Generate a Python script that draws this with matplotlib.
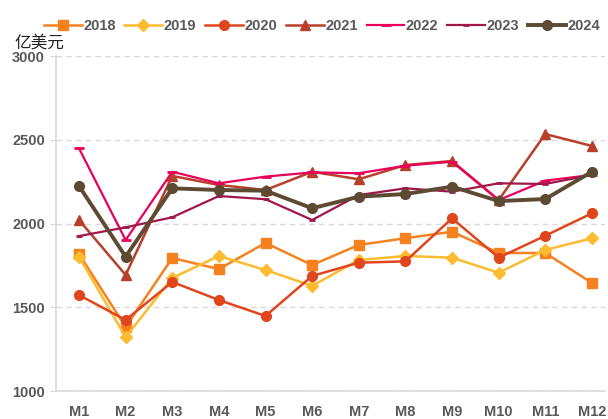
import matplotlib.pyplot as plt

months = ["M1", "M2", "M3", "M4", "M5", "M6", "M7", "M8", "M9", "M10", "M11", "M12"]
y2018 = [1818, 1382, 1794, 1728, 1884, 1752, 1872, 1912, 1951, 1824, 1824, 1645]
y2019 = [1802, 1322, 1675, 1806, 1722, 1628, 1782, 1806, 1796, 1706, 1842, 1912]
y2020 = [1573, 1424, 1651, 1543, 1448, 1687, 1766, 1774, 2031, 1796, 1927, 2061]
y2021 = [2021, 1693, 2284, 2230, 2200, 2309, 2264, 2349, 2373, 2140, 2534, 2463]
y2022 = [2449, 1901, 2309, 2240, 2280, 2305, 2300, 2345, 2369, 2140, 2256, 2290]
y2023 = [1925, 1977, 2037, 2164, 2145, 2021, 2170, 2210, 2190, 2240, 2236, 2290]
y2024 = [2224, 1802, 2210, 2200, 2196, 2091, 2160, 2176, 2220, 2134, 2146, 2309]

grey = "#595959"
fig = plt.figure(figsize=(6.08, 4.19), dpi=100)
ax = fig.add_axes([56 / 608, 28 / 419, 549 / 608, 335 / 419])

x = list(range(len(months)))
ax.plot(x, y2018, color="#F5821F", lw=1.8, marker="s", ms=7, label="2018")
ax.plot(x, y2019, color="#FDBB30", lw=1.8, marker="D", ms=6, label="2019")
ax.plot(x, y2020, color="#E0461E", lw=1.8, marker="o", ms=7, label="2020")
ax.plot(x, y2021, color="#B8402A", lw=1.8, marker="^", ms=7.5, label="2021")
ax.plot(x, y2022, color="#E8005A", lw=1.6, marker="_", ms=7, mew=2, label="2022")
ax.plot(x, y2023, color="#A0174A", lw=1.6, marker="_", ms=5, mew=2, label="2023")
ax.plot(x, y2024, color="#5C4A32", lw=2.8, marker="o", ms=7, label="2024")

ax.set_xlim(-0.493, 11.28)
ax.set_ylim(1000, 3000)
ax.set_yticks([1000, 1500, 2000, 2500, 3000])
ax.set_xticks(x)
ax.set_xticklabels(months)
ax.grid(axis="y", color="#D9D9D9", ls=(0, (4, 3)), lw=1)
ax.set_axisbelow(True)
for s in ["top", "right"]:
    ax.spines[s].set_visible(False)
for s in ["left", "bottom"]:
    ax.spines[s].set_color("#D9D9D9")
    ax.spines[s].set_linewidth(1.2)
ax.tick_params(axis="y", length=4, color="#D9D9D9", labelsize=10.5, labelcolor=grey, pad=4)
ax.tick_params(axis="x", length=0, labelsize=10.5, labelcolor=grey, pad=10)
for lab in ax.get_xticklabels() + ax.get_yticklabels():
    lab.set_fontweight("bold")
    lab.set_fontfamily("Liberation Sans")

fig.text(14 / 608, 1 - 43 / 419, "亿美元", fontsize=12, color="#222222",
         family=["Noto Sans CJK SC", "DejaVu Sans"], va="center", ha="left")

leg = fig.legend(loc="center", bbox_to_anchor=(322 / 608, 1 - 26 / 419), ncol=7, frameon=False,
                 handlelength=2.6, columnspacing=0.6, handletextpad=0.1,
                 prop={"family": "Liberation Sans", "weight": "bold", "size": 10.5})
for t in leg.get_texts():
    t.set_color(grey)

fig.savefig("out.png", dpi=100)
